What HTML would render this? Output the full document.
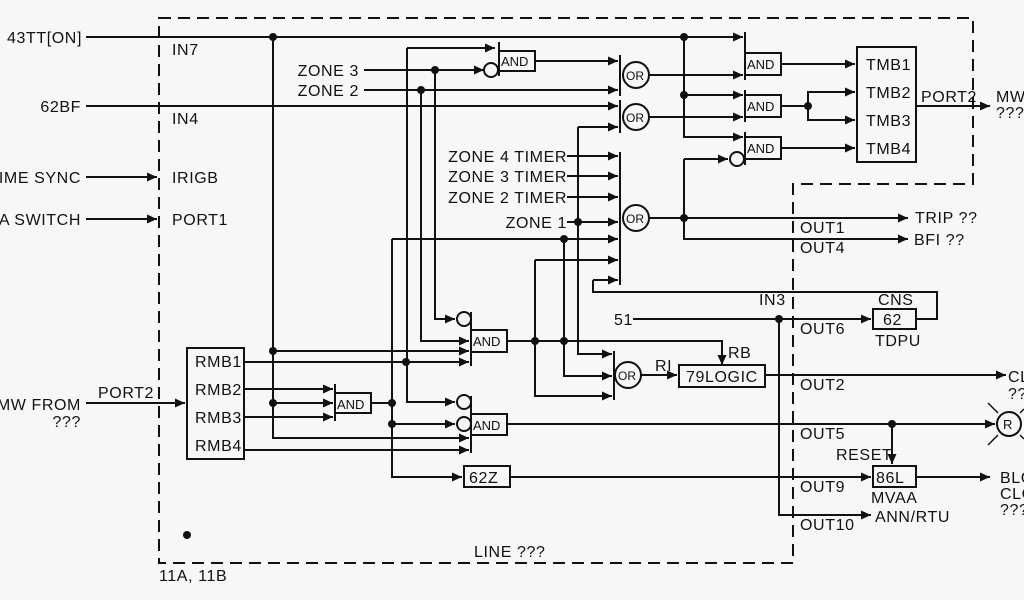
<!DOCTYPE html>
<html><head><style>
body{margin:0;background:#f7f7f7;}
svg{display:block}
text{font-family:"Liberation Sans",sans-serif;font-size:16px;fill:#111;letter-spacing:0.6px;}
.e{text-anchor:end}
.s{font-size:13px;letter-spacing:0}
</style></head><body>
<svg width="1024" height="600" viewBox="0 0 1024 600" xmlns="http://www.w3.org/2000/svg">
<defs>
<marker id="a" markerUnits="userSpaceOnUse" markerWidth="12" markerHeight="10" refX="10" refY="5" orient="auto"><path d="M0,0.5 L10,5 L0,9.5 Z" fill="#111"/></marker>
</defs>
<rect width="1024" height="600" fill="#f7f7f7"/>
<g stroke="#111" stroke-width="2" fill="none">
<path d="M159,18 H973 V184 H793 V563 H159 Z" stroke-dasharray="12,7"/>
<path d="M86,37 H743" marker-end="url(#a)"/>
<path d="M86,106 H618" marker-end="url(#a)"/>
<path d="M86,177 H157" marker-end="url(#a)"/>
<path d="M86,219 H157" marker-end="url(#a)"/>
<path d="M86,403 H185" marker-end="url(#a)"/>
<path d="M273,37 V438 H469" marker-end="url(#a)"/>
<path d="M273,351 H469" marker-end="url(#a)"/>
<path d="M273,403 H333" marker-end="url(#a)"/>
<path d="M364,70 H484" marker-end="url(#a)"/>
<path d="M364,90 H618" marker-end="url(#a)"/>
<path d="M407,48 H495" marker-end="url(#a)"/>
<path d="M407,48 V402 H455" marker-end="url(#a)"/>
<path d="M435,70 V319 H455" marker-end="url(#a)"/>
<path d="M421,90 V341 H469" marker-end="url(#a)"/>
<path d="M392,239 H618" marker-end="url(#a)"/>
<path d="M392,239 V477 H462" marker-end="url(#a)"/>
<path d="M392,424 H455" marker-end="url(#a)"/>
<path d="M244,362 H469" marker-end="url(#a)"/>
<path d="M244,389 H333" marker-end="url(#a)"/>
<path d="M244,417 H333" marker-end="url(#a)"/>
<path d="M244,450 H469" marker-end="url(#a)"/>
<path d="M371,403 H392"/>
<rect x="335" y="393" width="36" height="20"/>
<path d="M335,384 V421"/>
<rect x="187" y="348" width="57" height="111"/>
<rect x="471" y="330" width="36" height="22"/>
<path d="M471,312 V366"/>
<circle cx="464" cy="319" r="7"/>
<rect x="471" y="414" width="36" height="21"/>
<path d="M471,396 V453"/>
<circle cx="464" cy="402" r="7"/>
<circle cx="464" cy="424" r="7"/>
<rect x="464" y="466" width="46" height="21"/>
<path d="M510,477 H871" marker-end="url(#a)"/>
<path d="M507,341 H722 V365" marker-end="url(#a)"/>
<path d="M535,341 V396 H612" marker-end="url(#a)"/>
<path d="M535,260 H618" marker-end="url(#a)"/>
<path d="M535,260 V341"/>
<path d="M564,239 V376 H612" marker-end="url(#a)"/>
<path d="M578,127 H618" marker-end="url(#a)"/>
<path d="M578,127 V354 H612" marker-end="url(#a)"/>
<path d="M507,424 H995" marker-end="url(#a)"/>
<rect x="499" y="51" width="36" height="20"/>
<path d="M499,42 V76"/>
<circle cx="491" cy="70" r="7"/>
<path d="M535,61 H618" marker-end="url(#a)"/>
<path d="M620,55 V96"/>
<circle cx="636" cy="75" r="13"/>
<path d="M620,100 V133"/>
<circle cx="636" cy="117" r="13"/>
<path d="M649,75 H743" marker-end="url(#a)"/>
<path d="M649,117 H743" marker-end="url(#a)"/>
<path d="M567,156 H618" marker-end="url(#a)"/>
<path d="M567,176 H618" marker-end="url(#a)"/>
<path d="M567,197 H618" marker-end="url(#a)"/>
<path d="M567,222 H618" marker-end="url(#a)"/>
<path d="M593,280 H618" marker-end="url(#a)"/>
<path d="M593,280 V292 H937 V319 H916"/>
<path d="M620,152 V285"/>
<circle cx="636" cy="218" r="13"/>
<path d="M649,218 H908" marker-end="url(#a)"/>
<path d="M684,218 V239 H908" marker-end="url(#a)"/>
<path d="M684,159 V218"/>
<path d="M684,159 H728" marker-end="url(#a)"/>
<path d="M684,37 V137 H743" marker-end="url(#a)"/>
<path d="M684,95 H743" marker-end="url(#a)"/>
<path d="M745,32 V80"/>
<rect x="745" y="53" width="36" height="22"/>
<path d="M745,90 V122"/>
<rect x="745" y="95" width="36" height="22"/>
<path d="M745,132 V165"/>
<rect x="745" y="137" width="36" height="22"/>
<circle cx="737" cy="159" r="7"/>
<path d="M781,64 H855" marker-end="url(#a)"/>
<path d="M781,106 H808"/>
<path d="M808,106 V92 H855" marker-end="url(#a)"/>
<path d="M808,106 V120 H855" marker-end="url(#a)"/>
<path d="M781,148 H855" marker-end="url(#a)"/>
<rect x="857" y="47" width="59" height="115"/>
<path d="M916,106 H990" marker-end="url(#a)"/>
<path d="M614,351 V400"/>
<circle cx="628" cy="375" r="13"/>
<path d="M641,375 H677" marker-end="url(#a)"/>
<rect x="679" y="365" width="86" height="22"/>
<path d="M765,375 H1006" marker-end="url(#a)"/>
<path d="M633,319 H871" marker-end="url(#a)"/>
<path d="M779,319 V515 H871" marker-end="url(#a)"/>
<rect x="873" y="309" width="43" height="20"/>
<path d="M892,424 V464" marker-end="url(#a)"/>
<rect x="873" y="466" width="43" height="21"/>
<path d="M916,477 H990" marker-end="url(#a)"/>
<circle cx="1009" cy="424" r="12"/>
<path d="M988,403 L998,413 M988,445 L998,435 M1020,413 L1024,409 M1020,435 L1024,439" stroke-width="1.5"/>
</g>
<g fill="#111">
<circle cx="273" cy="37" r="4"/><circle cx="273" cy="351" r="4"/><circle cx="273" cy="403" r="4"/>
<circle cx="435" cy="70" r="4"/><circle cx="421" cy="90" r="4"/>
<circle cx="406" cy="362" r="4"/>
<circle cx="392" cy="403" r="4"/><circle cx="392" cy="424" r="4"/>
<circle cx="535" cy="341" r="4"/><circle cx="564" cy="341" r="4"/><circle cx="564" cy="239" r="4"/>
<circle cx="578" cy="222" r="4"/>
<circle cx="684" cy="37" r="4"/><circle cx="684" cy="95" r="4"/><circle cx="684" cy="218" r="4"/>
<circle cx="808" cy="106" r="4"/>
<circle cx="779" cy="319" r="4"/><circle cx="892" cy="424" r="4"/>
<circle cx="187" cy="535" r="4"/>
</g>
<g>
<text class="e" x="82" y="43">43TT[ON]</text>
<text class="e" x="81" y="112">62BF</text>
<text class="e" x="81" y="183">IME SYNC</text>
<text class="e" x="81" y="225">A SWITCH</text>
<text class="e" x="81" y="410">MW FROM</text>
<text class="e" x="81" y="427">???</text>
<text x="98" y="398">PORT2</text>
<text x="172" y="55">IN7</text>
<text x="172" y="124">IN4</text>
<text x="172" y="183">IRIGB</text>
<text x="172" y="225">PORT1</text>
<text class="e" x="359" y="76">ZONE 3</text>
<text class="e" x="359" y="96">ZONE 2</text>
<text class="e" x="567" y="162">ZONE 4 TIMER</text>
<text class="e" x="567" y="182">ZONE 3 TIMER</text>
<text class="e" x="567" y="203">ZONE 2 TIMER</text>
<text class="e" x="567" y="228">ZONE 1</text>
<text x="195" y="367">RMB1</text>
<text x="195" y="395">RMB2</text>
<text x="195" y="423">RMB3</text>
<text x="195" y="451">RMB4</text>
<text class="s" x="337" y="409">AND</text>
<text class="s" x="473" y="346">AND</text>
<text class="s" x="473" y="430">AND</text>
<text class="s" x="501" y="66">AND</text>
<text class="s" x="747" y="69">AND</text>
<text class="s" x="747" y="111">AND</text>
<text class="s" x="747" y="153">AND</text>
<text x="469" y="483">62Z</text>
<text class="s" x="626" y="80" style="font-size:12px">OR</text>
<text class="s" x="626" y="122" style="font-size:12px">OR</text>
<text class="s" x="626" y="223" style="font-size:12px">OR</text>
<text class="s" x="618" y="380" style="font-size:12px">OR</text>
<text x="866" y="70">TMB1</text>
<text x="866" y="98">TMB2</text>
<text x="866" y="126">TMB3</text>
<text x="866" y="154">TMB4</text>
<text x="921" y="102">PORT2</text>
<text x="996" y="102">MW</text>
<text x="996" y="118">???</text>
<text x="915" y="223">TRIP ??</text>
<text x="914" y="245">BFI ??</text>
<text x="800" y="233">OUT1</text>
<text x="800" y="253">OUT4</text>
<text x="759" y="305">IN3</text>
<text x="878" y="305">CNS</text>
<text x="883" y="325">62</text>
<text x="875" y="346">TDPU</text>
<text class="e" x="633" y="325">51</text>
<text x="800" y="334">OUT6</text>
<text x="728" y="358">RB</text>
<text x="655" y="371">RI</text>
<text x="686" y="382">79LOGIC</text>
<text x="800" y="390">OUT2</text>
<text x="1008" y="382">CL</text>
<text x="1008" y="399">??</text>
<text class="s" x="1003" y="429">R</text>
<text x="800" y="439">OUT5</text>
<text x="836" y="460">RESET</text>
<text x="876" y="483">86L</text>
<text x="800" y="492">OUT9</text>
<text x="871" y="503">MVAA</text>
<text x="1000" y="483">BLC</text>
<text x="1000" y="499">CLC</text>
<text x="1000" y="515">???</text>
<text x="875" y="522">ANN/RTU</text>
<text x="800" y="530">OUT10</text>
<text x="474" y="557">LINE ???</text>
<text x="159" y="581">11A, 11B</text>
</g>
</svg>
</body></html>
